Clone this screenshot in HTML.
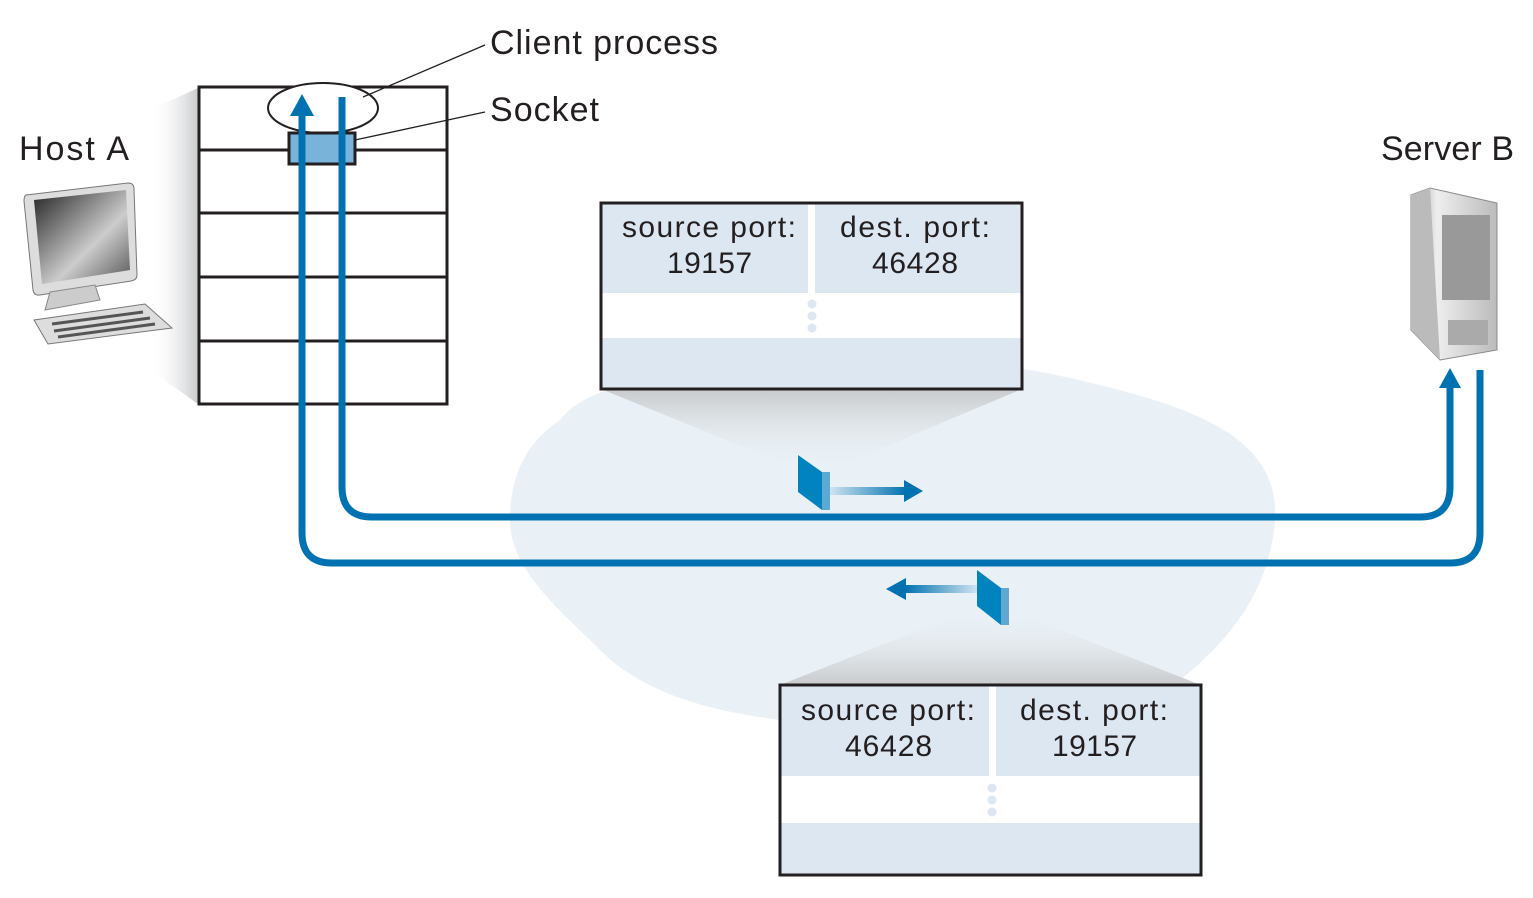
<!DOCTYPE html>
<html><head><style>body{margin:0;background:#fff}svg{display:block}text{font-family:"Liberation Sans",sans-serif;fill:#231f20}</style></head><body>
<svg width="1533" height="898" viewBox="0 0 1533 898" xmlns="http://www.w3.org/2000/svg">
<defs>
<linearGradient id="sh" x1="1" y1="0" x2="0" y2="0"><stop offset="0" stop-color="#c8cacc"/><stop offset="1" stop-color="#fff" stop-opacity="0"/></linearGradient>
<linearGradient id="sv" x1="0" y1="0" x2="0" y2="1"><stop offset="0" stop-color="#c8cacc"/><stop offset="1" stop-color="#eaf1f6" stop-opacity="0"/></linearGradient>
<linearGradient id="sv2" x1="0" y1="1" x2="0" y2="0"><stop offset="0" stop-color="#c8cacc"/><stop offset="1" stop-color="#eaf1f6" stop-opacity="0"/></linearGradient>
<linearGradient id="ar" x1="0" y1="0" x2="1" y2="0"><stop offset="0" stop-color="#cfe3f0"/><stop offset="1" stop-color="#0072b1"/></linearGradient>
<linearGradient id="ar2" x1="1" y1="0" x2="0" y2="0"><stop offset="0" stop-color="#cfe3f0"/><stop offset="1" stop-color="#0072b1"/></linearGradient>
<linearGradient id="scr" x1="0" y1="0" x2="1" y2="1"><stop offset="0" stop-color="#222"/><stop offset=".6" stop-color="#ccc"/><stop offset="1" stop-color="#555"/></linearGradient>
<linearGradient id="srv" x1="0" y1="0" x2="1" y2="0"><stop offset="0" stop-color="#999"/><stop offset=".3" stop-color="#eee"/><stop offset="1" stop-color="#bbb"/></linearGradient>
</defs>
<path d="M560,420 C600,370 700,380 800,365 C900,350 1000,360 1100,385 C1200,410 1280,440 1275,520 C1270,590 1230,640 1180,680 L1100,700 C1000,720 900,730 780,720 C700,710 640,690 600,650 C560,610 510,570 510,520 C510,470 530,440 560,420 Z" fill="#eaf1f6"/>
<polygon points="198,88 198,404 150,370 150,110" fill="url(#sh)"/>
<polygon points="601,389 1022,389 830,470 800,470" fill="url(#sv)"/>
<polygon points="780,685 1201,685 1010,610 970,610" fill="url(#sv2)"/>
<g>
<path d="M26,195 L128,183 Q134,183 134,189 L137,275 Q137,280 131,281 L40,295 Q34,296 33,290 L24,201 Q24,196 26,195Z" fill="#ddd" stroke="#777"/>
<path d="M34,200 L126,190 L130,270 L42,284Z" fill="url(#scr)"/>
<path d="M50,292 L95,285 L100,300 L45,310Z" fill="#ccc" stroke="#888"/>
<path d="M34,320 L145,304 L172,328 L48,344 Z" fill="#ddd" stroke="#777"/>
<path d="M52,324 L143,312 M54,331 L150,318 M58,337 L155,324" stroke="#555" stroke-width="3"/>
</g>
<g>
<polygon points="1411,195 1430,188 1497,203 1497,350 1440,360 1411,330" fill="url(#srv)" stroke="#888"/>
<polygon points="1411,195 1430,188 1440,360 1411,330" fill="#bbb"/>
<rect x="1442" y="215" width="48" height="85" fill="#999"/>
<rect x="1448" y="320" width="40" height="25" fill="#aaa"/>
</g>
<rect x="199" y="87" width="248" height="317" fill="#fff" stroke="#231f20" stroke-width="3"/>
<path d="M199,150 H447 M199,213 H447 M199,277 H447 M199,341 H447" stroke="#231f20" stroke-width="3"/>
<ellipse cx="323" cy="108" rx="55" ry="25" fill="#fff" stroke="#231f20" stroke-width="2"/>
<rect x="289" y="133" width="66" height="31" fill="#7ab3da" stroke="#231f20" stroke-width="3"/>
<path d="M363,97 L485,45 M355,140 L485,112" stroke="#231f20" stroke-width="1.3"/>
<path d="M342,97 V487 Q342,517 372,517 H1420 Q1450,517 1450,487 V385" fill="none" stroke="#0072b1" stroke-width="7"/>
<polygon points="1439,388 1461,388 1450,368" fill="#0072b1"/>
<path d="M1480,370 V533 Q1480,563 1450,563 H332 Q302,563 302,533 V112" fill="none" stroke="#0072b1" stroke-width="7"/>
<polygon points="290,116 314,116 302,94" fill="#0072b1"/>
<polygon points="798,455 822,472 822,510 798,492" fill="#0083be"/>
<rect x="822" y="472" width="8" height="38" fill="#5fa8d4"/>
<rect x="830" y="487" width="76" height="8" fill="url(#ar)"/>
<polygon points="904,480 923,491 904,502" fill="#0072b1"/>
<polygon points="977,570 1001,588 1001,625 977,606" fill="#0083be"/>
<rect x="1001" y="588" width="8" height="37" fill="#5fa8d4"/>
<rect x="905" y="585" width="72" height="8" fill="url(#ar2)"/>
<polygon points="906,578 886,589 906,600" fill="#0072b1"/>
<rect x="601" y="203" width="421" height="186" fill="#fff"/>
<rect x="601" y="203" width="421" height="90" fill="#dce7f2"/>
<rect x="601" y="338" width="421" height="51" fill="#dce7f2"/>
<rect x="808" y="203" width="7" height="90" fill="#fff"/>
<circle cx="812" cy="304" r="4.5" fill="#dce7f2"/><circle cx="812" cy="316" r="4.5" fill="#dce7f2"/><circle cx="812" cy="328" r="4.5" fill="#dce7f2"/>
<rect x="601" y="203" width="421" height="186" fill="none" stroke="#231f20" stroke-width="3"/>
<text x="622" y="237" font-size="30" textLength="174">source port:</text>
<text x="667" y="273" font-size="30" textLength="85">19157</text>
<text x="840" y="237" font-size="30" textLength="150">dest. port:</text>
<text x="872" y="273" font-size="30" textLength="86">46428</text>
<rect x="780" y="685" width="421" height="190" fill="#fff"/>
<rect x="780" y="685" width="421" height="91" fill="#dce7f2"/>
<rect x="780" y="823" width="421" height="52" fill="#dce7f2"/>
<rect x="989" y="685" width="7" height="91" fill="#fff"/>
<circle cx="992" cy="788" r="4.5" fill="#dce7f2"/><circle cx="992" cy="800" r="4.5" fill="#dce7f2"/><circle cx="992" cy="812" r="4.5" fill="#dce7f2"/>
<rect x="780" y="685" width="421" height="190" fill="none" stroke="#231f20" stroke-width="3"/>
<text x="801" y="720" font-size="30" textLength="174">source port:</text>
<text x="845" y="756" font-size="30" textLength="87">46428</text>
<text x="1020" y="720" font-size="30" textLength="148">dest. port:</text>
<text x="1052" y="756" font-size="30" textLength="85">19157</text>
<text x="490" y="54" font-size="34" textLength="228">Client process</text>
<text x="490" y="121" font-size="34" textLength="109">Socket</text>
<text x="19" y="160" font-size="34" textLength="110">Host A</text>
<text x="1381" y="160" font-size="34" textLength="133">Server B</text>
</svg>
</body></html>
